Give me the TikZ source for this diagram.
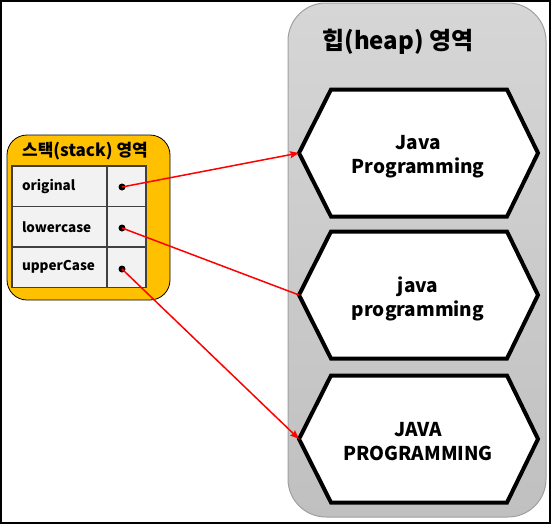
\documentclass[tikz,border=0pt]{standalone}
\usepackage{fontspec}
\setmainfont{Noto Sans CJK KR}
\usetikzlibrary{arrows.meta,positioning}

\definecolor{stackorange}{RGB}{255,192,0}
\definecolor{cellgray}{RGB}{242,242,242}
\definecolor{heaptop}{RGB}{214,214,214}
\definecolor{heapbot}{RGB}{192,192,192}
\definecolor{heapedge}{RGB}{160,160,160}
\definecolor{ptrred}{RGB}{255,0,0}

\tikzset{
  hexline/.style={line width=4pt, fill=white, line join=miter},
  hextext/.style={font=\fontsize{19}{24}\selectfont\bfseries, align=center},
  namecell/.style={draw=black!75, line width=1.2pt, fill=cellgray, minimum width=95pt,
    minimum height=40.5pt, text width=85pt, align=left, inner sep=5pt, outer sep=0pt,
    font=\fontsize{13.5}{15}\selectfont\bfseries},
  refcell/.style={draw=black!75, line width=1.2pt, fill=cellgray, minimum width=39pt,
    minimum height=40.5pt, outer sep=0pt},
  ptr/.style={ptrred, line width=1.5pt, -{Stealth[length=9pt, width=7pt, inset=1.5pt]}},
  ptrline/.style={ptrred, line width=1.5pt}
}

\begin{document}
\begin{tikzpicture}[x=1pt, y=-1pt]
\useasboundingbox (0,0) rectangle (552,525);
% outer frame
\draw[line width=2pt] (1,1) rectangle (550,523);

% heap area
\draw[heapedge, line width=1pt, top color=heaptop, bottom color=heapbot, rounded corners=38pt]
  (288,3) rectangle (546,517);
\node[font=\fontsize{24}{28}\selectfont\bfseries] (heaptitle) at (398,42) {힙(heap) 영역};

% string objects
\foreach \i/\y in {1/153,2/295,3/439} {
  \draw[hexline] (299,\y) coordinate (hl\i) -- (331,\y-63.5) -- (507,\y-63.5)
    -- (538,\y) -- (507,\y+63.5) -- (331,\y+63.5) -- cycle;
}
\node[hextext] (obj1) at (418,157) {Java\\Programming};
\node[hextext] (obj2) at (418,299) {java\\programming};
\node[hextext] (obj3) at (418,442) {JAVA\\PROGRAMMING};

% stack area
\draw[line width=0.8pt, fill=stackorange, rounded corners=20pt] (7,135) rectangle (170,300);
\node[font=\fontsize{17}{20}\selectfont\bfseries] (stacktitle) at (85,151) {스택(stack) 영역};

\foreach \i/\name/\y in {1/original/166,2/lowercase/206.5,3/upperCase/247} {
  \node[namecell, anchor=north west] (v\i) at (12,\y) {\hspace*{5pt}\name};
  \node[refcell, right=0pt of v\i] (r\i) {};
}
\coordinate (d1) at (122,187);
\coordinate (d2) at (122,228);
\coordinate (d3) at (122,269);
\foreach \i in {1,2,3} \fill (d\i) circle (3.5pt);

% references
\draw[ptr] (d1) -- (hl1);
\draw[ptrline] (d2) -- (hl2);
\draw[ptr] (d3) -- (hl3);
\end{tikzpicture}
\end{document}
